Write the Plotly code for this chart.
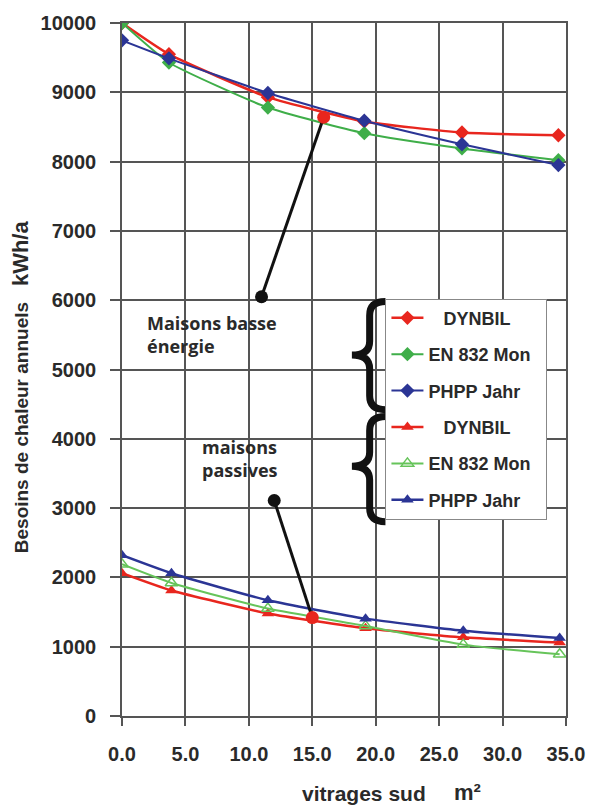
import plotly.graph_objects as go

# ---------------- data ----------------
x_ticks = [0, 5, 10, 15, 20, 25, 30, 35]

# low-energy houses (upper curves)
x_low_energy = [0, 3.7, 11.5, 19.1, 26.8, 34.4]
dynbil_le = [10000, 9550, 8930, 8580, 8420, 8380]
en832_le = [10000, 9430, 8780, 8410, 8190, 8020]
phpp_le = [9750, 9490, 8990, 8590, 8250, 7950]

# passive houses (lower curves)
x_passive = [0, 3.9, 11.5, 19.2, 26.9, 34.5]
dynbil_ph = [2060, 1810, 1480, 1265, 1135, 1060]
en832_ph = [2190, 1920, 1550, 1300, 1030, 890]
phpp_ph = [2320, 2060, 1670, 1405, 1230, 1125]

legend_names = ["&nbsp;&nbsp;&nbsp;DYNBIL", "EN 832 Mon&nbsp;&nbsp;", "PHPP Jahr"]

# annotation pointers (label dot -> curve)
ptr_le_x = [11.0, 15.9]
ptr_le_y = [6050, 8640]
ptr_ph_x = [12.0, 15.0]
ptr_ph_y = [3110, 1420]

label_le = "Maisons basse<br>énergie"
label_ph = "maisons<br>passives"

# ---------------- style ----------------
RED = "#e8261e"
GREEN = "#3fae49"
LGREEN = "#66c45a"
BLUE = "#2b3595"
GRID = "#555555"
TXT = "#2a2a2a"

W, H = 597, 805
L, R, T, B = 122, 25, 17, 89
PW, PH = W - L - R, H - T - B


def px(xp):
    return (xp - L) / PW


def py(yp):
    return (H - B - yp) / PH


fig = go.Figure()

series = [
    (x_low_energy, dynbil_le, legend_names[0], RED, "diamond", 2.5),
    (x_low_energy, en832_le, legend_names[1], GREEN, "diamond", 2),
    (x_low_energy, phpp_le, legend_names[2], BLUE, "diamond", 2),
    (x_passive, dynbil_ph, legend_names[0], RED, "triangle-up", 2.5),
    (x_passive, en832_ph, legend_names[1], LGREEN, "triangle-up-open", 2),
    (x_passive, phpp_ph, legend_names[2], BLUE, "triangle-up", 2.5),
]
for i, (xs, ys, name, col, sym, lw) in enumerate(series):
    fig.add_trace(go.Scatter(
        x=xs, y=ys, name=name, mode="lines+markers",
        line=dict(color=col, width=lw, shape="spline", smoothing=0.5),
        marker=dict(symbol=sym, size=11, color=col,
                    line=dict(width=1.5 if "open" in sym else 0, color=col)),
        legendgroup=f"g{i}",
    ))

# pointers
for xs, ys in [(ptr_le_x, ptr_le_y), (ptr_ph_x, ptr_ph_y)]:
    fig.add_trace(go.Scatter(
        x=xs, y=ys, mode="lines", line=dict(color="#111111", width=3),
        showlegend=False, hoverinfo="skip"))
    fig.add_trace(go.Scatter(
        x=xs[:1], y=ys[:1], mode="markers",
        marker=dict(size=13, color="#111111"), showlegend=False, hoverinfo="skip"))
    fig.add_trace(go.Scatter(
        x=xs[1:], y=ys[1:], mode="markers",
        marker=dict(size=13, color=RED), showlegend=False, hoverinfo="skip"))

shapes = []
# white patches behind the texts (hide gridlines)
for (x0, x1, y0, y1) in [(145, 352, 298, 366), (205, 340, 435, 496), (352, 389, 296, 522)]:
    shapes.append(dict(type="rect", xref="paper", yref="paper",
                       x0=px(x0), x1=px(x1), y0=py(y1), y1=py(y0),
                       fillcolor="white", line=dict(width=0), layer="between"))


def brace(right, stem, tip, top, mid, bot, r=14):
    pts = [
        f"M {px(right)},{py(top)}",
        f"Q {px(stem)},{py(top)} {px(stem)},{py(top + r)}",
        f"L {px(stem)},{py(mid - r)}",
        f"Q {px(stem)},{py(mid)} {px(tip)},{py(mid)}",
        f"Q {px(stem)},{py(mid)} {px(stem)},{py(mid + r)}",
        f"L {px(stem)},{py(bot - r)}",
        f"Q {px(stem)},{py(bot)} {px(right)},{py(bot)}",
    ]
    return " ".join(pts)


for (top, mid, bot) in [(298, 352, 407), (414, 464, 520)]:
    shapes.append(dict(type="path", xref="paper", yref="paper",
                       path=brace(389, 373, 355, top, mid, bot),
                       line=dict(color="#111111", width=7), layer="above"))

annotations = [
    dict(xref="paper", yref="paper", x=px(145), y=py(331), xanchor="left", yanchor="middle",
         text=label_le, showarrow=False, align="left",
         font=dict(family="Open Sans", size=18, color=TXT, weight="bold")),
    dict(xref="paper", yref="paper", x=px(201), y=py(456), xanchor="left", yanchor="middle",
         text=label_ph, showarrow=False, align="left",
         font=dict(family="Open Sans", size=18, color=TXT, weight="bold")),
    # y axis title
    dict(xref="paper", yref="paper", x=px(19), y=py(384), xanchor="center", yanchor="middle",
         textangle=-90, showarrow=False,
         text="Besoins de chaleur annuels&nbsp;&nbsp;&nbsp;<span style='font-size:22px'>kWh/a</span>",
         font=dict(family="Liberation Sans", size=19, color=TXT, weight="bold")),
    # x axis title
    dict(xref="paper", yref="paper", x=px(367), y=py(794), xanchor="center", yanchor="middle",
         text="vitrages sud", showarrow=False,
         font=dict(family="Liberation Sans", size=21, color=TXT, weight="bold")),
    dict(xref="paper", yref="paper", x=px(472), y=py(793), xanchor="center", yanchor="middle",
         text="m²", showarrow=False,
         font=dict(family="Liberation Sans", size=22, color=TXT, weight="bold")),
]

fig.update_layout(
    width=W, height=H,
    margin=dict(l=L, r=R, t=T, b=B),
    paper_bgcolor="white", plot_bgcolor="white",
    shapes=shapes, annotations=annotations,
    showlegend=True,
    legend=dict(
        x=px(389), y=py(295), xanchor="left", yanchor="top",
        bgcolor="white", bordercolor="#888888", borderwidth=1,
        font=dict(family="Liberation Sans", size=18, color=TXT, weight="bold"),
        traceorder="grouped", tracegroupgap=10, itemwidth=32,
    ),
    xaxis=dict(
        range=[0, 35], tickvals=x_ticks, tickformat=".1f",
        showgrid=True, gridcolor=GRID, gridwidth=1.7,
        showline=True, linecolor=GRID, linewidth=1.7, mirror=True,
        ticks="outside", ticklen=8, tickwidth=1.7, tickcolor=GRID,
        ticklabelstandoff=11, zeroline=False,
        tickfont=dict(family="Liberation Sans", size=20, color=TXT, weight="bold"),
    ),
    yaxis=dict(
        range=[0, 10000], dtick=1000, tickformat="d",
        showgrid=True, gridcolor=GRID, gridwidth=1.7,
        showline=True, linecolor=GRID, linewidth=1.7, mirror=True,
        ticks="outside", ticklen=10, tickwidth=1.7, tickcolor=GRID,
        ticklabelstandoff=10, zeroline=False,
        tickfont=dict(family="Liberation Sans", size=20, color=TXT, weight="bold"),
    ),
)

fig.write_html("out.html")
